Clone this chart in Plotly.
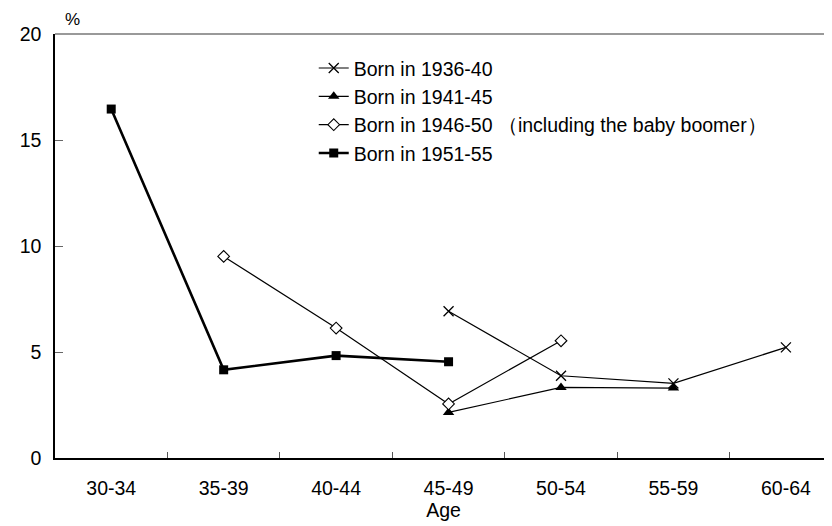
import plotly.graph_objects as go

ages = ["30-34", "35-39", "40-44", "45-49", "50-54", "55-59", "60-64"]

b1936_x = ["45-49", "50-54", "55-59", "60-64"]
b1936_y = [6.92, 3.88, 3.52, 5.22]

b1941_x = ["45-49", "50-54", "55-59"]
b1941_y = [2.15, 3.33, 3.30]

b1946_x = ["35-39", "40-44", "45-49", "50-54"]
b1946_y = [9.51, 6.13, 2.55, 5.53]

b1951_x = ["30-34", "35-39", "40-44", "45-49"]
b1951_y = [16.46, 4.16, 4.83, 4.54]

y_ticks = [0, 5, 10, 15, 20]

FONT = "Liberation Sans, Arial, sans-serif"
FS = 19.5

fig = go.Figure()
fig.add_trace(go.Scatter(
    x=b1936_x, y=b1936_y, name="Born in 1936-40", mode="lines+markers",
    line=dict(color="black", width=1.2),
    marker=dict(symbol="x-thin", size=10, color="black",
                line=dict(color="black", width=1.3))))
fig.add_trace(go.Scatter(
    x=b1941_x, y=b1941_y, name="Born in 1941-45", mode="lines+markers",
    line=dict(color="black", width=1.2),
    marker=dict(symbol="triangle-up", size=10, color="black")))
fig.add_trace(go.Scatter(
    x=b1946_x, y=b1946_y, name="Born in 1946-50 （including the baby boomer）",
    mode="lines+markers",
    line=dict(color="black", width=1.2),
    marker=dict(symbol="diamond", size=9, color="white",
                line=dict(color="black", width=1.1))))
fig.add_trace(go.Scatter(
    x=b1951_x, y=b1951_y, name="Born in 1951-55", mode="lines+markers",
    line=dict(color="black", width=2.6),
    marker=dict(symbol="square", size=9, color="black")))

# page body has an 8px default margin: the figure is drawn 8px in from the top-left
fig.update_layout(
    width=824, height=518,
    margin=dict(l=47, r=0, t=26, b=68, autoexpand=False),
    paper_bgcolor="white", plot_bgcolor="white",
    font=dict(family=FONT, size=FS, color="black"),
    showlegend=True,
    legend=dict(x=0.333, y=0.965, xanchor="left", yanchor="top",
                bgcolor="rgba(0,0,0,0)", font=dict(size=FS, family=FONT),
                itemwidth=30, tracegroupgap=0),
    xaxis=dict(
        type="category", categoryorder="array", categoryarray=ages,
        range=[-0.5, 6.41],
        showgrid=False, zeroline=False,
        showline=True, linecolor="black", linewidth=2,
        ticks="inside", tickson="boundaries", ticklen=6,
        tickcolor="#555555", tickwidth=1,
        ticklabelstandoff=12,
        tickfont=dict(size=FS, family=FONT),
        title=dict(text="Age", font=dict(size=FS, family=FONT), standoff=4),
    ),
    yaxis=dict(
        range=[0, 20], tickvals=y_ticks,
        showgrid=False, zeroline=False,
        showline=True, linecolor="black", linewidth=1.5,
        ticks="inside", ticklen=8, tickcolor="#666666", tickwidth=1,
        ticklabelstandoff=8,
        tickfont=dict(size=FS, family=FONT),
    ),
    shapes=[dict(type="line", xref="paper", yref="paper", x0=0, x1=1,
                 y0=1, y1=1, line=dict(color="#777777", width=1.5))],
    annotations=[dict(text="%", xref="paper", yref="paper", x=0.022, y=1.0,
                      xanchor="center", yanchor="bottom", yshift=3,
                      showarrow=False, font=dict(size=17, family=FONT))],
)

fig.write_html("out.html")
